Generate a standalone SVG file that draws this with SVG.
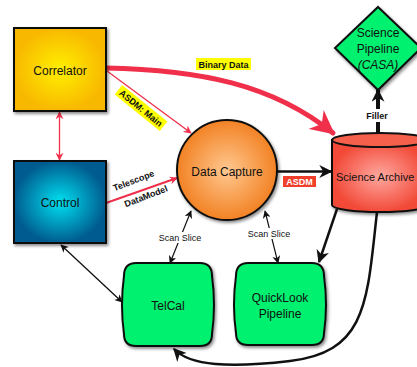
<svg xmlns="http://www.w3.org/2000/svg" width="417" height="367" viewBox="0 0 417 367">
<style>
text{font-family:"Liberation Sans",Arial,sans-serif;fill:#111}
.node{font-size:12px;text-anchor:middle}
.lbl{font-size:9px;text-anchor:middle}
.b{font-weight:bold}
.out{stroke:#111;stroke-width:2}
.red{stroke:#f0304a;fill:none}
.blk{stroke:#111;fill:none}
</style>
<defs>
<filter id="sh" x="-20%" y="-20%" width="140%" height="140%"><feDropShadow dx="1.5" dy="2" stdDeviation="1.5" flood-color="#000" flood-opacity="0.45"/></filter>
<radialGradient id="gCor"><stop offset="0" stop-color="#fff000"/><stop offset="1" stop-color="#f8b800"/></radialGradient>
<radialGradient id="gCon"><stop offset="0" stop-color="#00e0f0"/><stop offset="1" stop-color="#005c90"/></radialGradient>
<radialGradient id="gDC"><stop offset="0" stop-color="#ffc890"/><stop offset="1" stop-color="#f28224"/></radialGradient>
<radialGradient id="gSA"><stop offset="0" stop-color="#ffa8a0"/><stop offset="1" stop-color="#f24a38"/></radialGradient>
<marker id="aR" viewBox="0 0 10 10" refX="9" refY="5" markerWidth="8" markerHeight="8" markerUnits="userSpaceOnUse" orient="auto-start-reverse"><path d="M0,0 L10,5 L0,10 L3,5 Z" fill="#f0304a"/></marker>
<marker id="aK" viewBox="0 0 10 10" refX="9" refY="5" markerWidth="8" markerHeight="8" markerUnits="userSpaceOnUse" orient="auto-start-reverse"><path d="M0,0 L10,5 L0,10 L3,5 Z" fill="#111"/></marker>
<marker id="aKB" viewBox="0 0 10 10" refX="9" refY="5" markerWidth="13" markerHeight="13" markerUnits="userSpaceOnUse" orient="auto"><path d="M0,0 L10,5 L0,10 L3,5 Z" fill="#111"/></marker>
<marker id="aRB" viewBox="0 0 10 10" refX="9" refY="5" markerWidth="24" markerHeight="24" markerUnits="userSpaceOnUse" orient="auto"><path d="M0,0 L10,5 L0,10 L3,5 Z" fill="#f0304a"/></marker>
</defs>

<g id="connectors">
<path class="red" stroke-width="5" stroke-linecap="round" d="M105,68 C200,70 272,84 333,133" marker-end="url(#aRB)"/>
<line class="red" stroke-width="1.3" x1="107" y1="71" x2="191" y2="133" marker-end="url(#aR)"/>
<line class="red" stroke-width="2" x1="106" y1="203" x2="177" y2="178" marker-end="url(#aR)"/>
<line class="red" stroke-width="1.3" x1="59.5" y1="112" x2="59.5" y2="160" marker-start="url(#aR)" marker-end="url(#aR)"/>
<line class="blk" stroke-width="1.3" x1="61" y1="245" x2="122" y2="302" marker-start="url(#aK)" marker-end="url(#aK)"/>
<line class="blk" stroke-width="1.2" x1="191" y1="211" x2="170" y2="263" marker-start="url(#aK)" marker-end="url(#aK)"/>
<line class="blk" stroke-width="1.2" x1="265" y1="211" x2="278" y2="263" marker-start="url(#aK)" marker-end="url(#aK)"/>
<line class="blk" stroke-width="2.5" x1="277" y1="171.5" x2="331" y2="171.5" marker-end="url(#aKB)"/>
<line class="blk" stroke-width="2.5" x1="337" y1="209" x2="319" y2="262" marker-end="url(#aKB)"/>
<line class="blk" stroke-width="4" x1="378" y1="133" x2="378" y2="90" marker-end="url(#aKB)"/>
<path class="blk" stroke-width="2.5" d="M377,212 C367,300 368,352 290,361 C230,368 190,366 174,349" marker-end="url(#aKB)"/>
<rect x="196" y="58" width="55" height="12" fill="#ffff00"/>
<text class="lbl b" x="223.5" y="67.5">Binary Data</text>
<g transform="translate(141,108) rotate(39)"><rect x="-29" y="-6" width="58" height="12" fill="#ffff00"/><text class="lbl b" x="0" y="3.3">ASDM: Main</text></g>
<g transform="translate(140,189) rotate(-21)"><text class="lbl b" x="-3" y="-7">Telescope</text><text class="lbl b" x="3" y="12">DataModel</text></g>
<rect x="283" y="176" width="33" height="11" fill="#f0402c"/>
<text class="lbl b" x="299.5" y="184.8" style="fill:#fff">ASDM</text>
<rect x="364" y="109" width="28" height="13" fill="#fff"/>
<text class="lbl b" x="377" y="119">Filler</text>
<rect x="158" y="232" width="44" height="11" fill="#fff"/>
<text class="lbl" x="180" y="241">Scan Slice</text>
<rect x="247" y="228" width="44" height="11" fill="#fff"/>
<text class="lbl" x="269" y="237">Scan Slice</text>
</g>

<g id="correlator"><rect x="14" y="28" width="92" height="83" fill="url(#gCor)" class="out" filter="url(#sh)"/><text class="node" x="60" y="75">Correlator</text></g>
<g id="control"><rect x="14" y="161" width="92" height="82" fill="url(#gCon)" class="out" filter="url(#sh)"/><text class="node" x="60" y="207">Control</text></g>
<g id="datacapture"><circle cx="227" cy="170" r="50" fill="url(#gDC)" class="out" filter="url(#sh)" stroke-width="1.5"/><text class="node" x="227" y="176">Data Capture</text></g>
<g id="archive"><path d="M332,140 L332,205 A48,7 0 0 0 428,205 L428,140 Z" fill="url(#gSA)" class="out" filter="url(#sh)"/><ellipse cx="380" cy="140" rx="48" ry="7" fill="#f4604c" class="out"/><text x="336" y="181" font-size="11">Science Archive</text></g>
<g id="pipeline"><path d="M378,7 L421,48 L378,90 L335,48 Z" fill="#00f070" class="out" filter="url(#sh)"/><text class="node" x="378" y="37">Science</text><text class="node" x="378" y="53">Pipeline</text><text class="node" x="378" y="69" font-style="italic">(CASA)</text></g>
<g id="telcal"><path d="M136,263 L200,263 Q212,263 212,276 Q216,305 212,334 Q212,346 200,346 L136,346 Q124,346 124,334 Q120,305 124,276 Q124,263 136,263 Z" fill="#00f070" class="out" filter="url(#sh)"/><text class="node" x="168" y="310">TelCal</text></g>
<g id="quicklook"><path d="M248,263 L312,263 Q324,263 324,276 Q328,305 324,333 Q324,345 312,345 L248,345 Q236,345 236,333 Q232,305 236,276 Q236,263 248,263 Z" fill="#00f070" class="out" filter="url(#sh)"/><text class="node" x="280" y="302">QuickLook</text><text class="node" x="280" y="318">Pipeline</text></g>
</svg>
